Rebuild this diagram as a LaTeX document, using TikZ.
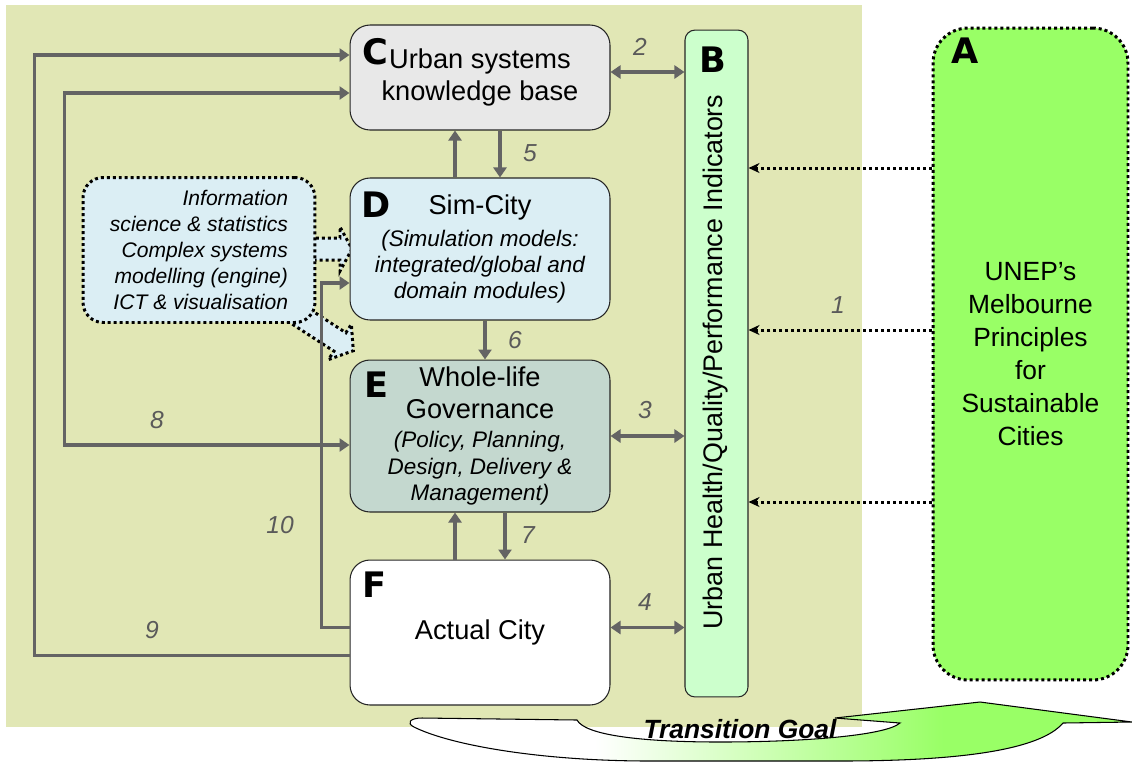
\documentclass[tikz,border=0pt]{standalone}
\usepackage{fontspec}
\setmainfont{Liberation Sans}
\newfontfamily\tagfont{DejaVu Sans}
\usetikzlibrary{arrows.meta}
\definecolor{groundolive}{HTML}{E1E7B5}
\definecolor{kbgray}{HTML}{E8E8E8}
\definecolor{simblue}{HTML}{DBEEF4}
\definecolor{govgreen}{HTML}{C4D8CF}
\definecolor{indgreen}{HTML}{CCFFCC}
\definecolor{unepgreen}{HTML}{99FF66}
\definecolor{linkgray}{HTML}{646464}
\definecolor{numgray}{HTML}{5A5A5A}
\pgfdeclarehorizontalshading{goalshade}{100bp}{color(0bp)=(white); color(38bp)=(white); color(62bp)=(unepgreen); color(100bp)=(unepgreen)}
% italic detail line inside a box
\newcommand{\detail}[1]{{\fontsize{12.8}{15}\selectfont\itshape #1}}
\tikzset{
  box/.style={draw=black!85, line width=0.6pt, rounded corners=0.4cm, inner sep=0pt,
    minimum width=5.2cm, align=center, font=\fontsize{15.5}{18}\selectfont},
  tag/.style={font=\tagfont\bfseries\fontsize{20}{20}\selectfont, inner sep=0pt},
  link/.style={draw=linkgray, line width=2pt},
  num/.style={text=numgray, font=\itshape\fontsize{14}{14}\selectfont, inner sep=0pt},
  dotline/.style={line width=1.7pt, dash pattern=on 1.7pt off 1.7pt},
}

\begin{document}
\begin{tikzpicture}[x=0.02cm, y=-0.02cm, >={Triangle[length=0.2cm,width=0.26cm]}]
  \useasboundingbox (0,0) rectangle (1132,762);
  % ground of the city part
  \fill[groundolive] (6,5) rectangle (862,727);

  % curved arrow at the bottom
  \path[shading=goalshade, draw=black, line width=0.6pt]
    (422,718) -- (577,720)
    .. controls (585,735) and (640,742) .. (720,742)
    .. controls (800,742) and (885,736) .. (900,723)
    -- (835,718) -- (980,702) -- (1132,722) -- (1063,723)
    .. controls (1040,750) and (960,761) .. (840,761) -- (650,761)
    .. controls (540,761) and (450,745) .. (414,727)
    .. controls (406,723) and (410,718) .. (422,718) -- cycle;
  \node[font=\bfseries\itshape\fontsize{15}{15}\selectfont] (goal) at (740,729) {Transition Goal};

  % block arrows out of the support box
  \path[fill=simblue, draw=black, dotline] (310,238) -- (340,238) -- (340,227) -- (352,249)
    -- (340,271) -- (340,260) -- (310,260) -- cycle;
  \begin{scope}[shift={(303,318)}, rotate=-33]
    \path[fill=simblue, draw=black, dotline] (-10,-11) -- (44,-11) -- (44,-21) -- (60,0)
      -- (44,21) -- (44,11) -- (-10,11) -- cycle;
  \end{scope}
  \node[draw=black, dotline, fill=simblue, rounded corners=0.4cm, minimum width=4.64cm,
    minimum height=2.9cm, align=right, font=\itshape\fontsize{12}{14.7}\selectfont] (info) at (199,250)
    {Information\\science \& statistics\\Complex systems\\modelling (engine)\\ICT \& visualisation};

  % main boxes
  \node[box, fill=kbgray, minimum height=2.1cm] (C) at (480,77.5) {Urban systems\\knowledge base};
  \node[box, fill=simblue, minimum height=2.84cm] (D) at (480,249)
    {Sim-City\\\detail{(Simulation models:}\\[-3pt]\detail{integrated/global and}\\[-3pt]\detail{domain modules)}};
  \node[box, fill=govgreen, minimum height=3.04cm] (E) at (480,436)
    {Whole-life\\Governance\\[-1pt]\detail{(Policy, Planning,}\\[-3pt]\detail{Design, Delivery \&}\\[-3pt]\detail{Management)}};
  \node[box, fill=white, minimum height=2.9cm] (F) at (480,632.5) {Actual City};

  \node[draw=black!85, line width=0.6pt, fill=indgreen, rounded corners=0.2cm, minimum width=1.26cm,
    minimum height=13.34cm] (B) at (716.5,363.5) {};
  \node[rotate=90, font=\fontsize{15.3}{15.3}\selectfont] (Btext) at (716,362)
    {Urban Health/Quality/Performance Indicators};

  \node[draw=black, dotline, fill=unepgreen, rounded corners=0.7cm, minimum width=3.9cm,
    minimum height=13.04cm, align=center, font=\fontsize{15}{18.7}\selectfont] (A) at (1030.5,354)
    {UNEP's\\Melbourne\\Principles\\for\\Sustainable\\Cities};

  \foreach \t/\p in {A/{965,51},B/{713,60},C/{375,52},D/{376,205},E/{376,385},F/{374,585}}
    \node[tag] (tag\t) at (\p) {\t};

  % principles feed the indicators
  \foreach \y in {168,330,502}
    \draw[dotline, -{Stealth[length=0.22cm,width=0.2cm]}] (A.west |- 0,\y) -- (B.east |- 0,\y);

  % links between the boxes
  \draw[link,<->] ([yshift=0.11cm]C.east) -- ([yshift=0.11cm]C.east -| B.west);
  \draw[link,<->] (E.east) -- (E.east -| B.west);
  \draw[link,<->] ([yshift=0.1cm]F.east) -- ([yshift=0.1cm]F.east -| B.west);
  \draw[link,->] ([xshift=0.4cm]C.south) -- ([xshift=0.4cm]D.north);
  \draw[link,->] ([xshift=-0.5cm]D.north) -- ([xshift=-0.5cm]C.south);
  \draw[link,->] ([xshift=0.1cm]D.south) -- ([xshift=0.1cm]E.north);
  \draw[link,->] ([xshift=0.5cm]E.south) -- ([xshift=0.5cm]F.north);
  \draw[link,->] ([xshift=-0.5cm]F.north) -- ([xshift=-0.5cm]E.south);
  \draw[link,<->] ([yshift=-0.31cm]C.west) -- ++(-285,0) |- ([yshift=-0.18cm]E.west);
  \draw[link,->] ([yshift=-0.46cm]F.west) -- ++(-315,0) |- ([yshift=0.45cm]C.west);
  \draw[link,->] ([yshift=0.1cm]F.west) -- ++(-28,0) |- ([yshift=-0.68cm]D.west);

  \foreach \n/\p in {1/{838,305},2/{640,47},3/{645,410},4/{645,602},5/{530,153},
      6/{515,340},7/{528,535},8/{157,420},9/{152,630},10/{280,525}}
    \node[num] (n\n) at (\p) {\n};
\end{tikzpicture}
\end{document}
